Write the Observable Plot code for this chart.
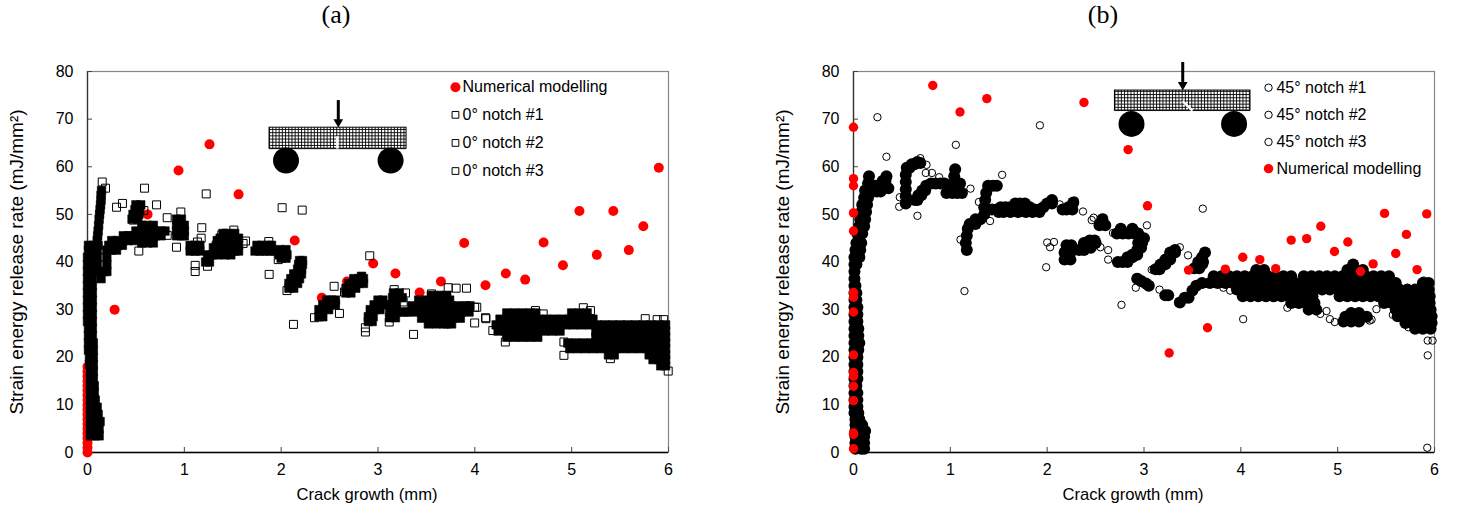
<!DOCTYPE html>
<html><head><meta charset="utf-8">
<script src="https://cdn.jsdelivr.net/npm/d3@7"></script>
<script src="https://cdn.jsdelivr.net/npm/@observablehq/plot@0.6"></script>
<style>
html,body{margin:0;padding:0;background:#fff;width:1459px;height:511px;overflow:hidden}
#titles{display:flex;height:30px;position:relative;font-family:"Liberation Serif",serif;font-size:26px;color:#000}
#titles div{position:absolute;top:0;transform:translateX(-50%)}
#charts{display:flex;width:1459px}
#charts svg{display:block;background:#fff;overflow:visible}
</style></head>
<body>
<div id="titles"><div style="left:336px">(a)</div><div style="left:1103px">(b)</div></div>
<div id="charts"></div>
<script>
const xTicks = [0,1,2,3,4,5,6];
const yTicks = [0,10,20,30,40,50,60,70,80];
const xLabel = "Crack growth (mm)";
const yLabel = "Strain energy release rate (mJ/mm²)";

// (a) numerical modelling [x, y]
const numA = [[.28,30],[.62,50],[.94,59.2],[1.26,64.7],[1.56,54.2],[1.87,42.9],[2.14,44.5],[2.42,32.5],[2.68,35.9],[2.95,39.7],[3.18,37.6],[3.43,33.6],[3.65,35.9],[3.89,44],[4.11,35.1],[4.32,37.6],[4.52,36.3],[4.71,44.1],[4.91,39.3],[5.08,50.7],[5.26,41.5],[5.43,50.7],[5.59,42.5],[5.74,47.5],[5.9,59.8],
[0,0],[0,1],[0,2],[0,3],[0,4],[0,5],[0,6],[0,7],[0,8],[0,9],[0,10],[0,11],[0,12],[0,13],[0,14],[0,15],[0,16],[0,17],[0,18]];

// (a) isolated 0° notch readings [x, y]
const notch0Sparse = [[.152,56.8],[.186,55.5],[.3,51.5],[.361,52.3],[.589,55.5],[.713,52],[.582,50.8],[.823,49.3],[.964,50.5],[.823,45.6],[.919,43.1],[.53,42.3],[.472,48.8],[1.226,54.3],[1.18,47.2],[1.174,45],[1.136,44.2],[1.112,39.3],[1.112,38],[1.239,39.1],[1.511,46.7],[1.387,45.7],[2.01,51.4],[2.217,50.9],[1.876,37.4],[1.872,44.3],[1.632,44.4],[1.607,43.9],[2.915,41.3],[1.97,40.5],[2.06,34],[2.127,26.9],[2.344,28.3],[2.547,34.9],[2.602,29.2],[2.654,33.7],[2.87,26.2],[2.87,25.3],[3.167,34.2],[3.284,33.5],[3.26,31.6],[3.116,27.4],[3.367,24.8],[3.553,33.3],[3.725,34.6],[3.807,34.5],[3.914,34.5],[3.998,30.5],[4.02,30.5],[3.998,27.2],[4.11,28.3],[4.115,28.1],[4.186,25.6],[4.315,23.2],[4.626,29.8],[4.706,29.1],[5.12,30.4],[5.194,29.8],[4.92,20.4],[4.92,23.2],[5.4,19.7],[5.883,27.9],[5.95,27.9],[5.76,28.1],[5.997,17.1],[3.714,27]];

// (a) closely packed 0° notch readings: [y, x, x, ...]
const notch0Packed = [
[3.5,.03,.08,.12],[5,.03,.08,.12],[6.5,.03,.08,.13],[8,.03,.08,.11],[9.5,.03,.08,.1],[11,.03,.08],[12.5,.03,.07],[14,.03,.07],[15.5,.03,.06],[17,.03,.06],[18.5,.02,.06],[20,.02,.06],[21.5,.01,.06],[23,.01,.06],[24.5,.01,.05],[26,.01,.05],[27.5,0,.05],[29,0,.05],[30.5,0,.05],[32,0,.05],[33.5,0,.05],[35,0,.05],[36.5,0,.05,.14],
[38,0,.05,.12,.17,.2],[39.5,0,.05,.1,.2],[41,0,.05,.1,.2],[42.5,.01,.06,.1,.2,.25,.3],[43.5,.01,.06,.11,.22,.27,.31,.36],
[44.5,.1,.25,.31,.37,.42,.48],[45.5,.105,.37,.42,.46,.52,.58,.64,.7,.76,.92,.97,1],[46.5,.11,.5,.56,.63,.7,.76,.8,.92,.97,1],[47.7,.115,.56,.62,.68,.92,.97,1],[49,.12,.46,.52,.92,.97],[50,.125,.47,.53],[51,.13,.49,.54],[52,.135,.5,.55],[53,.14],[54,.14],[55,.145],[44,.56,.62,.68],[45,.56,.62],
[42.3,1.06,1.11,1.16,1.42,1.47,1.52,1.56,1.73,1.78,1.83,1.88,1.93],[43.5,1.06,1.11,1.16,1.33,1.4,1.46,1.52,1.56,1.75,1.8,1.86,1.9],[45,1.37,1.42,1.47,1.52,1.56],[46,1.4,1.44,1.52],[40,1.22,1.26],[41.5,1.24,1.29,1.34,1.42,1.48,1.98,2.03,2.06],[43,1.3,1.35],[44.5,1.34,1.39],[42.6,1.98,2.05],[40.8,2,2.05],
[34.5,2.08,2.13],[35.5,2.08,2.13,2.17],[36.5,2.1,2.15,2.19],[37.5,2.13,2.18,2.21],[38.5,2.17,2.21],[39.5,2.18,2.22],[40.3,2.19,2.22],
[28.5,2.39,2.43],[30,2.39,2.43,2.49],[31,2.43,2.47,2.52,2.56],[32,2.47,2.52,2.56],
[33.5,2.67,2.72],[34.5,2.67,2.72,2.77],[35.5,2.7,2.75,2.8,2.85],[36.5,2.75,2.8,2.85],[37,2.83],
[27.5,2.9,2.94],[28.5,2.9,2.95],[30,2.92,2.97,3.02],[31,2.96,3.01,3.07],[32,3.0,3.05],
[33.5,3.16,3.22],[32.5,3.15,3.2,3.25],[31,3.14,3.19],[29.5,3.12,3.2,3.27],[28.3,3.12,3.18],
[33,3.55,3.63,3.71],[32,3.42,3.5,3.58,3.66,3.74],[30.8,3.35,3.43,3.51,3.59,3.67,3.75,3.83,3.91,3.95],[29.5,3.3,3.38,3.46,3.54,3.62,3.7,3.78,3.86,3.94],[28.2,3.45,3.53,3.61,3.69,3.77,3.85],[27,3.52,3.6,3.68,3.76],
[29.3,4.33,4.41,4.49,4.57,4.63,5.0,5.08,5.16],
[28,4.26,4.34,4.42,4.5,4.58,4.66,4.74,4.82,4.9,4.98,5.06,5.14,5.22],
[26.8,4.22,4.3,4.38,4.46,4.54,4.62,4.7,4.78,4.86,4.94,5.02,5.1,5.18,5.26,5.34,5.42,5.5,5.58,5.66,5.74,5.82,5.9,5.97],
[25.5,4.24,4.32,4.4,4.48,4.56,4.64,4.72,4.8,4.88,5.25,5.33,5.41,5.49,5.57,5.65,5.73,5.81,5.89,5.97],
[24.2,4.33,4.41,4.49,4.57,4.65,5.25,5.33,5.41,5.49,5.57,5.65,5.73,5.81,5.89,5.97],
[23,4.96,5.04,5.12,5.2,5.28,5.36,5.44,5.52,5.6,5.68,5.76,5.84,5.92,5.97],
[21.8,4.98,5.06,5.14,5.22,5.3,5.38,5.46,5.54,5.62,5.7,5.78,5.86,5.94,5.97],
[20.5,5.38,5.44,5.8,5.86,5.92,5.97],[19.5,5.84,5.9,5.97],[18.2,5.92,5.97]];

// (b) numerical modelling [x, y]
const numB = [[0,68.3],[.819,77.06],[1.1,71.5],[1.377,74.3],[2.38,73.5],[2.836,63.6],[3.036,51.8],[0,57.5],[0,56],[0,50.3],[0,46.5],[0,33.6],[0,32.6],[0,29.5],[0,20.5],[0,16.8],[0,16],[0,13.9],[0,10.9],[0,4.1],[0,3.8],[0,.8],[3.46,38.3],[3.84,38.5],[4.02,41],[4.196,40.5],[4.36,38.6],[4.52,44.6],[4.68,44.9],[4.826,47.5],[4.967,42.2],[5.105,44.2],[5.236,38],[5.366,39.6],[5.484,50.2],[5.6,41.8],[5.71,45.8],[5.82,38.4],[5.92,50.1],[3.26,20.9],[3.656,26.2]];

// (b) isolated 45° notch readings [x, y]
const notch45Sparse = [[.247,70.4],[.34,62.1],[1.057,64.6],[1.925,68.7],[1.535,58.3],[.478,53.6],[.472,51.6],[.66,49.7],[.69,61.8],[.754,60.4],[.747,58.7],[.81,58.7],[.885,57.8],[1.208,55.4],[.967,54.3],[1.105,44.7],[1.41,48.6],[1.295,52.6],[1.99,38.9],[2,44.1],[2.07,44.2],[2.03,43.1],[2.165,40.3],[2.37,50.6],[2.46,48.8],[2.48,49.3],[2.585,49.3],[2.68,46.1],[2.55,43.1],[2.63,42.5],[2.63,40.5],[2.13,52.1],[2.285,52.9],[3.03,47.7],[2.92,36.8],[1.146,33.9],[2.767,31],[2.915,34.6],[2.93,36.8],[3.607,51.2],[3.08,38.4],[3.37,43.1],[3.455,41.4],[4.024,28],[5.925,1],[5.93,20.4],[5.93,23.5],[5.98,23.5],[4.82,29.1],[4.885,29.7],[4.92,28],[4.97,27.4],[5.35,27.9],[5.33,27.7],[5.4,30.1],[4.48,30.4],[3.82,34.6],[3.89,34],[3.16,34.2],[5.73,26.3],[5.95,25.8],[5.57,28.9],[5.89,36.1]];

// (b) closely packed 45° notch readings: [y, x, x, ...]
const notch45Packed = [
[.8,.02,.08,.11],[2,.02,.08,.11],[3.3,.02,.07,.11],[4.5,.02,.07,.12],[5.8,.02,.07,.09],[7,.02,.06],[8.3,.01,.05],[9.6,.01,.04],[11,.01,.04],[12.5,.01,.04],[14,.01,.03],[15.5,.01,.04],[17,.01,.04],[18.5,.01,.04],[20,.01,.04],[21.5,.01,.05],[23,.01,.06],[24.5,.01,.05],[26,.01,.05],[27.5,.01,.04],[29,.01,.04],[30.5,.01,.04],[32,.01,.03],[33.5,.01,.03],[35,.01,.02],[36.5,.01],[38,.01],[39.5,.01,.03],[41,.01,.06],[42.5,.02,.07],[44,.03,.08],[46,.04,.09],[47.5,.06,.11],[49,.07,.12],[50.5,.08,.13],[52,.09,.14],[53.5,.11,.15],[55,.12,.16],[56.5,.15],[58,.16],
[54.8,.2,.24,.28],[56,.18,.22,.26,.3],[57,.3,.33],[58,.34],[55.5,.36],
[52.3,.54],[53.8,.54],[55.3,.54],[56.8,.54],[58.3,.54],[59.8,.55,.58],[60.5,.6,.63],[61,.66],[60.8,.69],
[53,.635,.66],[54,.67,.7],[55,.71,.74],[56,.75,.97,1.02,1.07],[56.5,.8,.85,.9,.94,1.1],[54.5,.96,1.02,1.07,1.12],[58,1.04],[59.5,1.05],
[42.5,1.17],[44,1.16],[45.5,1.17],[47,1.18],[48,1.2,1.26],[49,1.26,1.31],[50,1.35],[51.5,1.35],[53,1.36],[54.5,1.37],[56,1.39,1.44,1.48],
[51,1.38,1.43,1.48,1.87,1.92],[51.5,1.52,1.57,1.62,1.82,1.96],[52.3,1.67,1.72,1.77,2,2.05],[53,2.05],[50.5,1.5,1.55,1.62,1.7,1.78,1.85,1.92],
[51,2.16,2.2,2.26],[51.5,2.22],[52.5,2.27],[47.7,2.54,2.6],[49,2.57],[46,2.72,2.78,2.84,2.9,2.94],[47,2.76,2.88],[45,2.96,3],[44,2.94,2.98],[43,2.97],
[40.5,2.18,2.24],[42,2.18,2.24],[43.5,2.2,2.25],[42.5,2.33,2.38],[44,2.38,2.43],[44.5,2.44,2.49],[44,2.5],[43,2.4,2.45],
[40,2.73,2.78,2.83],[41,2.83,2.88],[41.5,2.88,2.93],[42.5,2.93],[43,2.96],
[38.5,3.12,3.16],[39.5,3.17,3.22],[40.5,3.22,3.27],[42,3.27,3.32],[42.5,3.32],[41,3.27],
[38.7,3.52,3.57],[40,3.56,3.61],[41,3.6],[39.5,3.6],[42,3.63],
[36.5,2.93],[36,2.97],[35.5,3.02],[35,3.05],[33,3.22,3.25],
[31.5,3.37],[32.5,3.42,3.46],[34,3.5],[35,3.54],
[37,3.72,3.8,3.88,3.96,4.04,4.12,4.2,4.28,4.36,4.44,4.52,4.65,4.73,4.81,4.89,4.97,5.05,5.13,5.21,5.29,5.37,5.45,5.53],
[38.3,4.16,4.24,5.1,5.18,5.26],[39.5,5.16],
[35.6,3.6,3.68,3.76,3.84,3.92,4,4.08,4.16,4.24,4.32,4.4,4.48,4.56,4.64,4.72,4.8,4.88,4.96,5.04,5.12,5.2,5.28,5.36,5.44,5.52,5.6,5.88,5.94],
[34.2,3.96,4.04,4.12,4.2,4.28,4.36,4.44,4.52,4.6,4.68,4.76,4.84,4.92,5,5.08,5.16,5.24,5.32,5.4,5.48,5.56,5.64,5.72,5.8,5.88,5.94],
[32.8,4.02,4.1,4.18,4.26,4.34,4.42,4.5,4.58,4.66,4.74,5.02,5.1,5.18,5.26,5.34,5.42,5.5,5.58,5.66,5.74,5.82,5.9,5.95],
[31.4,4.52,4.6,4.68,4.76,5.48,5.56,5.64,5.72,5.8,5.88,5.95],
[30,4.7,4.78,5.6,5.68,5.76,5.84,5.92,5.96],[28.6,5.62,5.7,5.78,5.86,5.94,5.97],[27.2,5.7,5.78,5.86,5.94,5.97],[26,5.8,5.88,5.96],
[28.5,5.08,5.16,5.24,5.3],[27.5,5.06,5.14,5.22],[29.3,5.14,5.22]];

// legends
const legendA = [{label:"Numerical modelling",kind:"num",y:76.7},{label:"0° notch #1",kind:"exp",y:70.9},{label:"0° notch #2",kind:"exp",y:65.0},{label:"0° notch #3",kind:"exp",y:59.1}];
const legendB = [{label:"45° notch #1",kind:"exp",y:76.6},{label:"45° notch #2",kind:"exp",y:70.9},{label:"45° notch #3",kind:"exp",y:65.2},{label:"Numerical modelling",kind:"num",y:59.6}];

const red = "#ff0000";
const flat = rows => rows.flatMap(([y,...xs]) => xs.map(x => [x,y]));
const isNum = d => d.kind === "num";

function schematic(s){
  const pxx = 1/96.83, pxy = 1/4.7625;
  const vs = d3.range(s.x1, s.x2, 3.2*pxx), hs = d3.range(s.y1, s.y2, 3.2*pxy);
  return [
    Plot.rect([s],{x1:"x1",x2:"x2",y1:"y1",y2:"y2",fill:"#fff",stroke:"#000",strokeWidth:1}),
    Plot.ruleX(vs,{y1:s.y1,y2:s.y2,stroke:"#000",strokeWidth:.9}),
    Plot.ruleY(hs,{x1:s.x1,x2:s.x2,stroke:"#000",strokeWidth:.9}),
    Plot.link([s.notch],{x1:"x1",y1:"y1",x2:"x2",y2:"y2",stroke:"#fff",strokeWidth:2.5}),
    Plot.dot(s.pins,{x:d=>d,y:s.pinY,r:13,fill:"#000"}),
    Plot.ruleX([s.arrowX],{y1:s.arrowTop,y2:s.y2+1.5,stroke:"#000",strokeWidth:3}),
    Plot.dot([s.arrowX],{x:d=>d,y:s.y2+1.2,symbol:"triangle",rotate:180,r:3.6,fill:"#000"})
  ];
}

function panel(o){
  const num = Plot.dot(o.num,{x:d=>d[0],y:d=>d[1],r:o.numR,fill:red});
  const isSq = o.symbol === "square";
  const expOpts = isSq ? {r:4.5,symbol:"square"} : {r:3.7,symbol:"circle"};
  const packed = Plot.dot(flat(o.packed),{x:d=>d[0],y:d=>d[1],fill:"#000",...(isSq?{r:4.8,symbol:"square",stroke:"#000",strokeWidth:.6}:{r:6,symbol:"circle"})});
  const sparse = Plot.dot(o.sparse,{x:d=>d[0],y:d=>d[1],stroke:"#000",strokeWidth:1,fill:"none",...expOpts});
  const order = o.numFirst ? [num,packed,sparse] : [sparse,packed,num];
  return Plot.plot({
    width:o.width,height:481,
    marginLeft:o.ml,marginRight:o.mr,marginTop:41,marginBottom:59,
    style:{fontFamily:"'Liberation Sans',Arial,sans-serif",background:"#fff",color:"#000"},
    x:{domain:[0,6]},y:{domain:[0,80]},
    marks:[
      Plot.frame({stroke:"#868686",strokeWidth:1.2}),
      Plot.ruleY([0],{stroke:"#000",strokeWidth:1.4}),
      Plot.ruleX([0],{stroke:"#333",strokeWidth:1.3}),
      Plot.axisX({ticks:xTicks,tickFormat:d=>d,tickSize:-5,tickPadding:16,fontSize:16,label:null,stroke:"#444"}),
      Plot.axisY({ticks:yTicks,tickFormat:d=>d,tickSize:-5,tickPadding:19,fontSize:16,label:null,stroke:"#444"}),
      Plot.text([xLabel],{frameAnchor:"bottom",dx:-11,dy:47,fontSize:16.6,fill:"#000"}),
      Plot.text([yLabel],{frameAnchor:"left",rotate:-90,dx:-71,fontSize:19,fill:"#000",textAnchor:"middle"}),
      ...schematic(o.schem),
      ...order,
      Plot.dot(o.legend.filter(isNum),{x:o.legX,y:"y",r:o.numR,fill:red}),
      Plot.dot(o.legend.filter(d=>!isNum(d)),{x:o.legX,y:"y",stroke:"#000",strokeWidth:1,fill:"none",...(isSq?{r:3.8,symbol:"square"}:{r:3.7,symbol:"circle"})}),
      Plot.text(o.legend,{x:o.legTextX,y:"y",text:"label",textAnchor:"start",fontSize:16,fill:"#000"})
    ]
  });
}

const host = document.getElementById("charts");
host.append(panel({
  width:729,ml:87,mr:61,num:numA,numR:5,packed:notch0Packed,sparse:notch0Sparse,symbol:"square",numFirst:true,
  legend:legendA,legX:3.80,legTextX:3.873,
  schem:{x1:1.88,x2:3.295,y1:63.8,y2:68.2,pins:[2.05,3.13],pinY:61.3,arrowX:2.59,arrowTop:73.9,notch:{x1:2.58,x2:2.58,y1:63.8,y2:66.4}}
}));
host.append(panel({
  width:730,ml:124,mr:25,num:numB,numR:4.7,packed:notch45Packed,sparse:notch45Sparse,symbol:"circle",numFirst:false,
  legend:legendB,legX:4.286,legTextX:4.368,
  schem:{x1:2.70,x2:4.10,y1:71.8,y2:76,pins:[2.871,3.93],pinY:69,arrowX:3.40,arrowTop:81.9,notch:{x1:3.40,x2:3.50,y1:73.8,y2:71.8}}
}));
</script>
</body></html>
